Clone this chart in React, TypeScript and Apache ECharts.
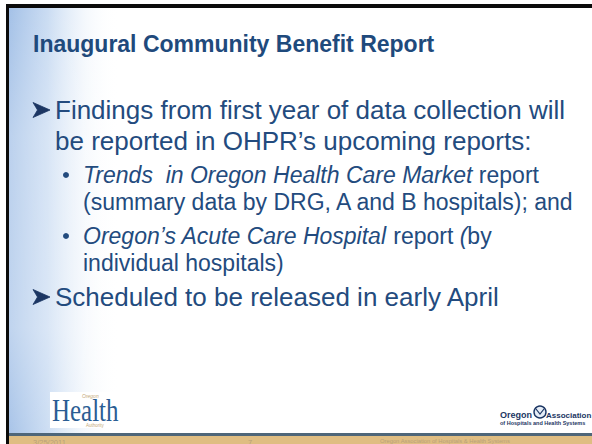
import React, { useEffect, useRef } from "react";
import * as echarts from "echarts";

const titleText = "Inaugural Community Benefit Report";
const bullet1Lines = [
  "Findings from first year of data collection will",
  "be reported in OHPR’s upcoming reports:",
];
const sub1Lines = [
  "{i|Trends  in Oregon Health Care Market} report",
  "(summary data by DRG, A and B hospitals); and",
];
const sub2Lines = [
  "{i|Oregon’s Acute Care Hospital} report {i|(}by",
  "individual hospitals)",
];
const bullet2Lines = ["Scheduled to be released in early April"];
const footerTexts = ["3/25/2011", "7", "Oregon Association of Hospitals & Health Systems"];
const logoLeftTexts = ["Oregon", "Health", "Authority"];
const logoRightTexts = ["Oregon", "Association", "of Hospitals and Health Systems"];

const BLUE = "#234b7e";
const NAVY = "#1c3663";
const FONT = "'Liberation Sans', Arial, sans-serif";

export default function App() {
  const ref = useRef<HTMLDivElement>(null);
  useEffect(() => {
    const chart = echarts.init(ref.current!, undefined, { renderer: "svg" });
    const els: any[] = [];

    // background sky strip
    els.push({
      type: "rect",
      shape: { x: 9, y: 8, width: 110, height: 426 },
      style: {
        fill: new echarts.graphic.LinearGradient(0, 0, 1, 0, [
          { offset: 0, color: "#a4c1e7" },
          { offset: 0.35, color: "rgba(196,216,241,0.9)" },
          { offset: 0.7, color: "rgba(238,244,251,0.6)" },
          { offset: 1, color: "rgba(255,255,255,0)" },
        ]),
      },
      silent: true,
    });
    els.push({
      type: "rect",
      shape: { x: 9, y: 8, width: 110, height: 426 },
      style: {
        fill: new echarts.graphic.LinearGradient(0, 0, 0, 1, [
          { offset: 0, color: "rgba(255,255,255,0)" },
          { offset: 0.3, color: "rgba(255,255,255,0.25)" },
          { offset: 0.75, color: "rgba(255,255,255,0.3)" },
          { offset: 1, color: "rgba(255,255,255,0.05)" },
        ]),
      },
      silent: true,
    });

    // frame
    els.push({ type: "rect", shape: { x: 6, y: 4, width: 586, height: 4 }, style: { fill: "#0b0b0b" } });
    els.push({ type: "rect", shape: { x: 6, y: 4, width: 3, height: 440 }, style: { fill: "#0b0b0b" } });

    // title
    els.push({
      type: "text",
      x: 33,
      y: 44,
      style: {
        text: titleText,
        font: `bold 23px ${FONT}`,
        fill: "#1f4a7c",
        verticalAlign: "middle",
      },
    });

    const arrow = (y: number) => ({
      type: "polygon",
      shape: { points: [[33, y - 7.5], [50, y], [33, y + 7.5], [37.5, y]] },
      style: { fill: NAVY, stroke: NAVY, lineWidth: 0.8 },
    });
    const dot = (y: number) => ({
      type: "circle",
      shape: { cx: 66, cy: y, r: 3 },
      style: { fill: BLUE },
    });
    const line = (x: number, y: number, text: string, size: number) => ({
      type: "text",
      x,
      y,
      style: {
        text,
        font: `${size}px ${FONT}`,
        fill: BLUE,
        verticalAlign: "middle",
        rich: {
          i: { fontStyle: "italic", fontSize: size, fontFamily: FONT, fill: BLUE },
        },
      },
    });

    const mainSize = 26;
    const subSize = 23;
    els.push(arrow(110));
    els.push(line(55, 110, bullet1Lines[0], mainSize));
    els.push(line(55, 141, bullet1Lines[1], mainSize));
    els.push(dot(175));
    els.push(line(83, 175, sub1Lines[0], subSize));
    els.push(line(83, 202, sub1Lines[1], subSize));
    els.push(dot(236));
    els.push(line(83, 236, sub2Lines[0], subSize));
    els.push(line(83, 263, sub2Lines[1], subSize));
    els.push(arrow(297));
    els.push(line(55, 297, bullet2Lines[0], mainSize));

    // left logo
    els.push({ type: "rect", shape: { x: 50, y: 392, width: 70, height: 36 }, style: { fill: "#ffffff" } });
    els.push({
      type: "text",
      x: 52,
      y: 410,
      scaleX: 0.78,
      style: {
        text: logoLeftTexts[1],
        font: "32px 'Liberation Serif', 'Times New Roman', serif",
        fill: "#2b5d93",
        verticalAlign: "middle",
      },
    });
    els.push({
      type: "text",
      x: 82,
      y: 396,
      style: { text: logoLeftTexts[0], font: `italic 5px ${FONT}`, fill: "#c4a878", verticalAlign: "middle" },
    });
    els.push({
      type: "text",
      x: 86,
      y: 425,
      style: { text: logoLeftTexts[2], font: `4.5px ${FONT}`, fill: "#c4a878", verticalAlign: "middle" },
    });

    // right logo
    els.push({
      type: "text",
      x: 500,
      y: 415,
      style: { text: logoRightTexts[0], font: `bold 9px ${FONT}`, fill: NAVY, verticalAlign: "middle" },
    });
    els.push({
      type: "circle",
      shape: { cx: 540, cy: 412, r: 6 },
      style: { fill: "#e6edf6", stroke: NAVY, lineWidth: 1.4 },
    });
    els.push({
      type: "polyline",
      shape: { points: [[536, 409], [540, 414], [544, 409]] },
      style: { stroke: NAVY, lineWidth: 1.2, fill: "none" },
    });
    els.push({
      type: "text",
      x: 546,
      y: 415,
      style: { text: logoRightTexts[1], font: `bold 8px ${FONT}`, fill: NAVY, verticalAlign: "middle" },
    });
    els.push({
      type: "text",
      x: 500,
      y: 423,
      style: { text: logoRightTexts[2], font: `bold 5.5px ${FONT}`, fill: NAVY, verticalAlign: "middle" },
    });

    // footer bars
    els.push({ type: "rect", shape: { x: 9, y: 433, width: 583, height: 3 }, style: { fill: "#4e6679" } });
    els.push({ type: "rect", shape: { x: 9, y: 436, width: 583, height: 8 }, style: { fill: "#dfbd82" } });
    const footerX = [33, 248, 380];
    const footerSize = [7.5, 7.5, 5.8];
    footerTexts.forEach((t, i) =>
      els.push({
        type: "text",
        x: footerX[i],
        y: 438,
        style: { text: t, font: `${footerSize[i]}px ${FONT}`, fill: "#b8a17a", verticalAlign: "top" },
      })
    );

    chart.setOption({
      animation: false,
      backgroundColor: "#ffffff",
      graphic: { elements: els },
    });
    return () => chart.dispose();
  }, []);
  return (
    <div
      ref={ref}
      style={{ position: "absolute", left: 0, top: 0, width: 592, height: 444 }}
    />
  );
}
